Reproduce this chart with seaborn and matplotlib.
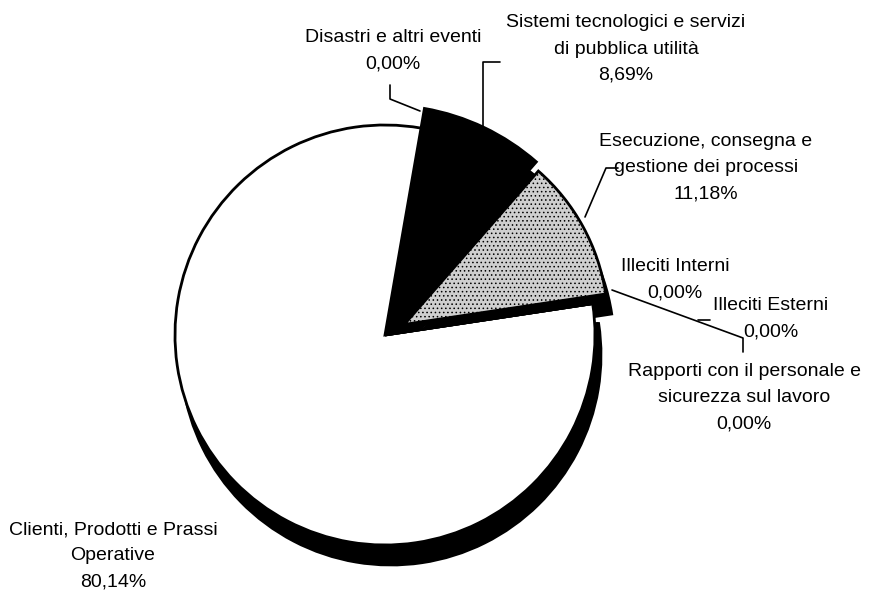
import matplotlib
matplotlib.use("Agg")
import matplotlib.pyplot as plt
import seaborn as sns

sns.set_theme(style="white")
plt.rcParams['font.family'] = ['Liberation Sans', 'DejaVu Sans']
plt.rcParams['hatch.linewidth'] = 0.6

# Data (counter-clockwise order starting at the right)
categories = [
    "Esecuzione, consegna e\ngestione dei processi",
    "Sistemi tecnologici e servizi\ndi pubblica utilità",
    "Disastri e altri eventi",
    "Clienti, Prodotti e Prassi\nOperative",
    "Rapporti con il personale e\nsicurezza sul lavoro",
    "Illeciti Esterni",
    "Illeciti Interni",
]
values = [11.18, 8.69, 0.00, 80.14, 0.00, 0.00, 0.00]
pct_labels = ["11,18%", "8,69%", "0,00%", "80,14%", "0,00%", "0,00%", "0,00%"]

face_colors = ["#cfcfcf", "black", "black", "white", "white", "white", "white"]

W, H = 872, 595
cx, cy, r = 385, H - 335, 210
start = 8.6
# explode distances (in px, the axes uses pixel units)
explode = [22, 0, 0, 0, 0, 0, 0]
# radius scale per slice (the dark slice stands out of the disc)
radius_scale = [0.97, 1.095, 1, 1, 1, 1, 1]

# label centres in pixel coords (x, y from top)
label_pos = [(706, 168), (626, 49), (393, 51), (113, 556), (744, 398), (771, 319), (675, 280)]

fig = plt.figure(figsize=(W / 100, H / 100), dpi=100)
ax = fig.add_axes([0, 0, 1, 1])

# shadow / depth
shadow, _ = ax.pie(values, colors=["black"] * len(values), explode=explode, startangle=start,
                   counterclock=True, center=(cx + 6, cy - 20), radius=r,
                   wedgeprops=dict(edgecolor="black", linewidth=2), frame=True)
# main pie
wedges, _ = ax.pie(values, colors=face_colors, explode=explode, startangle=start,
                   counterclock=True, center=(cx, cy), radius=r,
                   wedgeprops=dict(edgecolor="black", linewidth=2), frame=True)
for ws in (shadow, wedges):
    for w, s in zip(ws, radius_scale):
        w.set_radius(r * s)
# side wall of the dark slice fills the gap behind the exploded slice
shadow[1].set_theta1(wedges[1].theta1 - 7)
wedges[0].set_hatch("....")

ax.set_xlim(0, W)
ax.set_ylim(0, H)
ax.set_aspect('equal')
ax.axis('off')

for cat, pct, (lx, ly) in zip(categories, pct_labels, label_pos):
    ax.text(lx, H - ly, f"{cat}\n{pct}", ha="center", va="center",
            fontsize=14, color="black", linespacing=1.7)

# leader lines (pixel coords, y from top)
leaders = [
    [(390, 85), (390, 99), (420, 111)],
    [(500, 62), (483, 62), (483, 127)],
    [(618, 168), (606, 168), (585, 217)],
    [(612, 290), (743, 338), (743, 352)],
    [(698, 320), (710, 320)],
]
for pts in leaders:
    xs = [p[0] for p in pts]
    ys = [H - p[1] for p in pts]
    ax.plot(xs, ys, color="black", linewidth=1.2)

fig.savefig("out.png", dpi=100, facecolor="white")
